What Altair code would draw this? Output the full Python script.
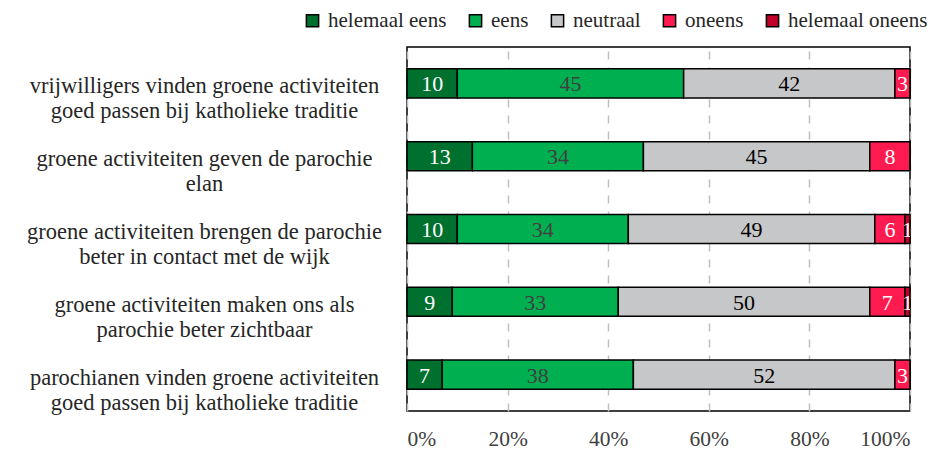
import altair as alt
import pandas as pd

categories = [
    "vrijwilligers vinden groene activiteiten|goed passen bij katholieke traditie",
    "groene activiteiten geven de parochie|elan",
    "groene activiteiten brengen de parochie|beter in contact met de wijk",
    "groene activiteiten maken ons als|parochie beter zichtbaar",
    "parochianen vinden groene activiteiten|goed passen bij katholieke traditie",
]
series = ["helemaal eens", "eens", "neutraal", "oneens", "helemaal oneens"]
helemaal_eens = [10, 13, 10, 9, 7]
eens = [45, 34, 34, 33, 38]
neutraal = [42, 45, 49, 50, 52]
oneens = [3, 8, 6, 7, 3]
helemaal_oneens = [0, 0, 1, 1, 0]
x_ticks = [0, 20, 40, 60, 80, 100]

bar_colors = ["#00702F", "#00B050", "#C6C7C9", "#FF1A4F", "#C00027"]
text_colors = ["#FFFFFF", "#404040", "#000000", "#FFFFFF", "#FFFFFF"]

values = [helemaal_eens, eens, neutraal, oneens, helemaal_oneens]
rows = []
for si, (s, vals) in enumerate(zip(series, values)):
    for c, v in zip(categories, vals):
        rows.append({"cat": c, "serie": s, "value": v, "order": si})
df = pd.DataFrame(rows)

FONT = "Liberation Serif"

base = alt.Chart(df)

y_enc = alt.Y(
    "cat:N",
    sort=categories,
    title=None,
    scale=alt.Scale(paddingInner=0.6, paddingOuter=0.3),
    axis=alt.Axis(
        labelExpr="split(datum.label, '|')",
        labelAlign="center",
        labelBaseline="middle",
        labelPadding=203,
        labelFont=FONT,
        labelFontSize=22.5,
        labelLineHeight=25,
        labelColor="#262626",
        labelLimit=600,
        labelOffset=3,
        ticks=False,
        domain=False,
        grid=False,
    ),
)

bars = base.mark_bar(stroke="black", strokeWidth=1.5).encode(
    x=alt.X(
        "value:Q",
        stack="zero",
        title=None,
        scale=alt.Scale(domain=[0, 100], nice=False),
        axis=alt.Axis(
            values=x_ticks,
            labelExpr="datum.value + '%'",
            labelFont=FONT,
            labelFontSize=21.5,
            labelColor="#404040",
            labelPadding=17,
            ticks=False,
            domain=False,
            grid=True,
            gridColor="#BFBFBF",
            gridDash=[8, 8],
            gridWidth=1.5,
        ),
    ),
    y=y_enc,
    color=alt.Color(
        "serie:N",
        scale=alt.Scale(domain=series, range=bar_colors),
        legend=alt.Legend(
            title=None,
            orient="none",
            direction="horizontal",
            legendX=-105,
            legendY=-37,
            symbolType="square",
            symbolSize=150,
            symbolStrokeColor="black",
            symbolStrokeWidth=1.5,
            labelFont=FONT,
            labelFontSize=21,
            labelColor="#262626",
            labelOffset=5,
            columnPadding=18,
            labelLimit=300,
        ),
    ),
    order=alt.Order("order:Q"),
)

texts = (
    base.transform_window(
        cum="sum(value)",
        groupby=["cat"],
        sort=[alt.SortField("order")],
        frame=[None, 0],
    )
    .transform_calculate(mid="datum.cum - datum.value / 2")
    .transform_filter("datum.value > 0")
    .mark_text(font=FONT, fontSize=22, baseline="middle", align="center", clip=True, dy=1)
    .encode(
        x=alt.X("mid:Q"),
        y=alt.Y("cat:N", sort=categories),
        text=alt.Text("value:Q"),
        color=alt.Color(
            "serie:N",
            scale=alt.Scale(domain=series, range=text_colors),
            legend=None,
        ),
    )
)

chart = (
    alt.layer(bars, texts)
    .resolve_scale(color="independent")
    .properties(
        width=503,
        height=364,
        autosize=alt.AutoSizeParams(type="none"),
        padding={"left": 399, "top": 39, "right": 26, "bottom": 39},
    )
    .configure_view(stroke="black", strokeWidth=1.5)
)

chart.save("out.html", embed_options={"renderer": "svg", "actions": False})
